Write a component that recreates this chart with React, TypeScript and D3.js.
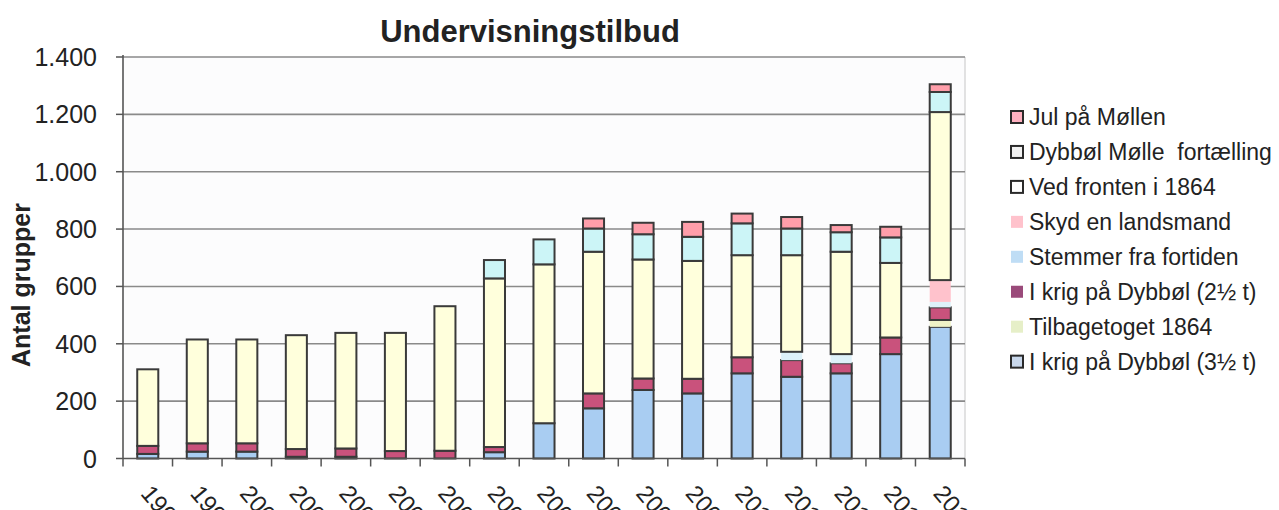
import React from "react";
import * as d3 from "d3";

const categories = ["1998","1999","2000","2001","2002","2003","2004","2005","2006","2007","2008","2009","2010","2011","2012","2013","2014"];
const yTicks = [0, 200, 400, 600, 800, 1000, 1200, 1400];

const krig35 = [16, 24, 24, 6, 6, 0, 0, 22, 123, 175, 239, 227, 297, 285, 297, 364, 459];
const tilbagetoget = [0, 0, 0, 0, 0, 0, 0, 0, 0, 0, 0, 0, 0, 0, 0, 0, 24];
const krig25 = [28, 29, 29, 27, 29, 26, 27, 18, 0, 52, 40, 51, 56, 58, 35, 58, 44];
const stemmer = [0, 0, 0, 0, 0, 0, 0, 0, 0, 0, 0, 0, 0, 29, 32, 0, 19];
const skyd = [0, 0, 0, 0, 0, 0, 0, 0, 0, 0, 0, 0, 0, 0, 0, 0, 76];
const vedFronten = [267, 362, 362, 397, 403, 412, 504, 588, 554, 494, 415, 411, 356, 337, 357, 260, 586];
const dybbolFortaelling = [0, 0, 0, 0, 0, 0, 0, 64, 87, 81, 88, 84, 111, 93, 68, 89, 70];
const julPaaMoellen = [0, 0, 0, 0, 0, 0, 0, 0, 0, 35, 40, 52, 34, 40, 25, 37, 27];

// stacking order bottom -> top
const seriesNames = [
  "I krig på Dybbøl (3½ t)",
  "Tilbagetoget 1864",
  "I krig på Dybbøl (2½ t)",
  "Stemmer fra fortiden",
  "Skyd en landsmand",
  "Ved fronten i 1864",
  "Dybbøl Mølle  fortælling",
  "Jul på Møllen",
];
const seriesValues = [krig35, tilbagetoget, krig25, stemmer, skyd, vedFronten, dybbolFortaelling, julPaaMoellen];
const seriesFill = ["#A9CDF2", "#EEF2C6", "#C9527C", "#DDF1F9", "#FFC2CC", "#FFFFDC", "#CCF5F7", "#FF9EAA"];
const legendFill = ["#C9D8EC", "#E6EFC8", "#9A4A7A", "#BFDDF5", "#FFC2CC", "#FFFFFF", "#F2F2F2", "#FFB0C0"];
const seriesBorder = [true, false, true, false, false, true, true, true];

export default function App() {
  const W = 1279, H = 510;
  const left = 123, right = 965, top = 57, bottom = 458.5;
  const x = d3.scaleBand<string>().domain(categories).range([left, right]).paddingInner(0.575).paddingOuter(0.2875);
  const y = d3.scaleLinear().domain([0, 1400]).range([bottom, top]);
  const step = x.step();

  const rows = categories.map((c, i) => {
    const o: any = { cat: c };
    seriesNames.forEach((s, k) => (o[s] = seriesValues[k][i]));
    return o;
  });
  const stacked = d3.stack().keys(seriesNames)(rows);

  const font = "Liberation Sans, Arial, sans-serif";
  const legendOrder = [...seriesNames.keys()].reverse();

  return (
    <svg width={W} height={H} style={{ position: "absolute", left: 0, top: 0, background: "#fff" }} fontFamily={font}>
      <rect x={0} y={0} width={W} height={H} fill="#fff" />
      <rect x={left} y={top} width={right - left} height={bottom - top} fill="#FCFCFD" />
      <line x1={right} x2={right} y1={top} y2={bottom} stroke="#D8D8D8" strokeWidth={1.5} />
      {yTicks.map((t) => (
        <g key={t}>
          {t > 0 && <line x1={left} x2={right} y1={y(t)} y2={y(t)} stroke="#8A8A8A" strokeWidth={1.6} />}
          <line x1={left - 7} x2={left} y1={y(t)} y2={y(t)} stroke="#555" strokeWidth={1.5} />
          <text x={97} y={y(t)} dy="0.36em" textAnchor="end" fontSize={25} fill="#222">
            {d3.format(",")(t).replace(/,/g, ".")}
          </text>
        </g>
      ))}
      {stacked.map((layer, k) =>
        layer.map((d, i) => {
          const v = d[1] - d[0];
          if (v <= 0) return null;
          return (
            <rect
              key={k + "-" + i}
              x={x(categories[i])}
              y={y(d[1])}
              width={x.bandwidth()}
              height={y(d[0]) - y(d[1])}
              fill={seriesFill[k]}
              stroke={seriesBorder[k] ? "#3A3A3A" : "none"}
              strokeWidth={2}
            />
          );
        })
      )}
      <line x1={left} x2={left} y1={top - 2} y2={bottom} stroke="#555" strokeWidth={1.6} />
      <line x1={left} x2={right} y1={bottom} y2={bottom} stroke="#555" strokeWidth={1.6} />
      {d3.range(categories.length + 1).map((i) => (
        <line key={i} x1={left + i * step} x2={left + i * step} y1={bottom} y2={bottom + 8} stroke="#555" strokeWidth={1.5} />
      ))}
      {categories.map((c) => {
        const cx = (x(c) as number) + x.bandwidth() / 2;
        return (
          <text key={c} transform={`translate(${cx - 8},${494}) rotate(50)`} fontSize={24} fill="#222">
            {c}
          </text>
        );
      })}
      <text x={530} y={42} textAnchor="middle" fontSize={31} fontWeight="bold" fill="#222">
        Undervisningstilbud
      </text>
      <text transform={`translate(30,${285}) rotate(-90)`} textAnchor="middle" fontSize={25} fontWeight="bold" fill="#222">
        Antal grupper
      </text>
      {legendOrder.map((k, j) => {
        const cy = 117 + j * 34.95;
        return (
          <g key={k}>
            <rect
              x={1011}
              y={cy - 6}
              width={12}
              height={12}
              fill={legendFill[k]}
              stroke={seriesBorder[k] && k !== 2 ? "#2A2A2A" : "none"}
              strokeWidth={2}
            />
            <text x={1029} y={cy} dy="0.36em" fontSize={23} fill="#222" style={{ whiteSpace: "pre" }}>
              {seriesNames[k]}
            </text>
          </g>
        );
      })}
    </svg>
  );
}
